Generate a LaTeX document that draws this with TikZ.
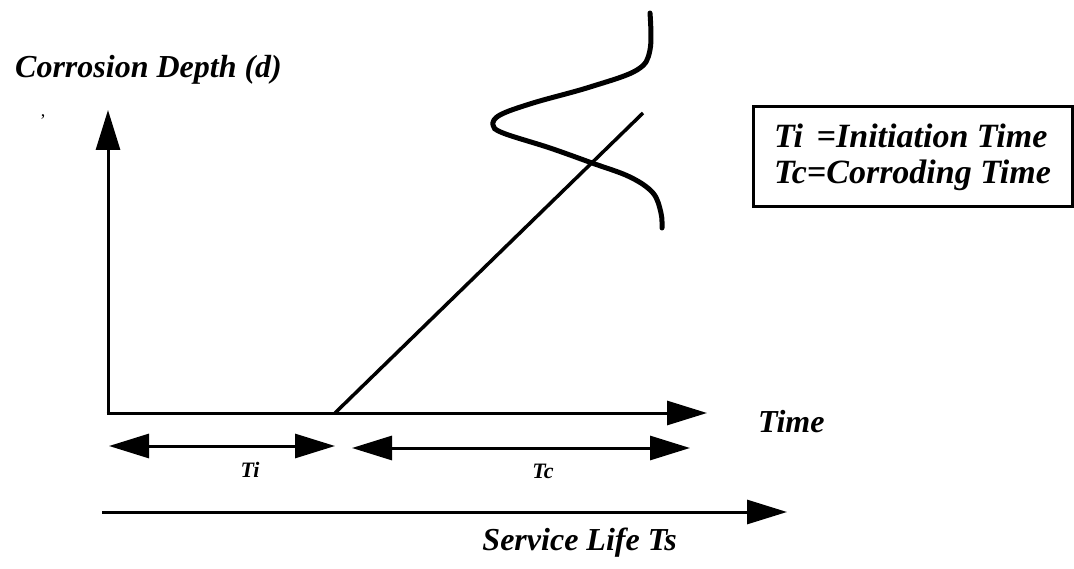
\documentclass[tikz,border=0pt]{standalone}
\usepackage{fontspec}
\setmainfont{Liberation Serif}
\usetikzlibrary{arrows.meta}
\begin{document}
\begin{tikzpicture}[x=1pt,y=-1pt,
  lbl/.style={font=\fontsize{32}{36}\selectfont\bfseries\itshape, inner sep=0pt},
  small/.style={font=\fontsize{22}{24}\selectfont\bfseries\itshape, inner sep=0pt},
  axis/.style={line width=3pt, -{Triangle[length=40pt,width=24pt]}},
  dbl/.style={line width=3pt, {Triangle[length=40pt,width=24pt]}-{Triangle[length=40pt,width=24pt]}},
  legend/.style={draw, line width=3pt, minimum width=319pt, minimum height=100pt, align=left,
    font=\fontsize{34}{36}\selectfont\bfseries\itshape, inner sep=0pt},
]
\useasboundingbox (0,0) rectangle (1074,569);
% axes
\coordinate (O) at (108,413);
\coordinate (ytip) at (108,110);
\coordinate (xtip) at (707,413);
\draw[axis] (O) -- (ytip);
\draw[axis] ([xshift=-1.5pt]O) -- (xtip);
% corrosion line
\coordinate (ds) at (335,413);
\coordinate (de) at (643,113);
\draw[line width=3.5pt] (ds) -- (de);
% distribution curve
\draw[line width=5pt, line cap=round] plot[smooth, tension=0.6] coordinates {
 (650,13) (650,50) (637,70) (590,87) (533,103) (500,115) (493,125) (503,133)
 (550,148) (592,163) (630,177) (653,193) (661,213) (662,228)};
% period arrows
\coordinate (tia) at (109,446);
\coordinate (tib) at (335,446);
\coordinate (tca) at (352,448);
\coordinate (tcb) at (690,448);
\draw[dbl] (tia) -- (tib);
\draw[dbl] (tca) -- (tcb);
\coordinate (sla) at (102,512);
\coordinate (slb) at (787,512);
\draw[axis] (sla) -- (slb);
% labels
\node[lbl, anchor=base west] (ylabel) at (15,78) {Corrosion Depth (d)};
\node[font=\fontsize{18}{18}\selectfont, anchor=base, inner sep=0pt] (comma) at (43,117) {,};
\node[lbl, anchor=base west] (xlabel) at (758,432) {Time};
\node[small, anchor=base] (ti) at (250,477) {Ti};
\node[small, anchor=base] (tc) at (543,478) {Tc};
\node[lbl, anchor=base east] (sl) at (677,550) {Service Life Ts};
\node[legend] (leg) at (912.5,157) {Ti\hspace{0.4em}=Initiation Time\\Tc=Corroding Time};
\end{tikzpicture}
\end{document}
